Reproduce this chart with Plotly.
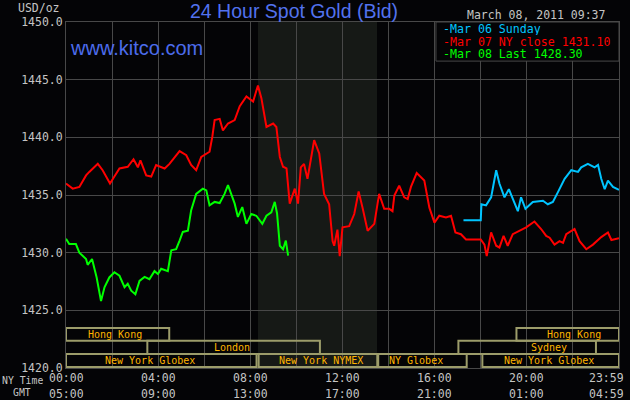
import plotly.graph_objects as go

# ---------------- data ----------------
red_name = "Mar 07 NY close 1431.10"
red_h = [0, 0.29, 0.58, 0.87, 1.01, 1.38, 1.59, 1.91, 2.10, 2.32, 2.68, 2.93, 3.12, 3.23, 3.48, 3.70, 3.91,
         4.28, 4.49, 4.93, 5.22, 5.43, 5.65, 5.87, 6.23, 6.35, 6.45, 6.67, 6.81, 7.03, 7.32, 7.54, 7.83, 8.12,
         8.33, 8.48, 8.70, 8.99, 9.13, 9.28, 9.42, 9.57, 9.71, 9.93, 10.07, 10.19, 10.33, 10.48, 10.77, 10.99,
         11.20, 11.42, 11.57, 11.64, 11.78, 11.88, 12.0, 12.29, 12.51, 12.70, 12.87, 13.09, 13.38, 13.59, 13.81,
         14.03, 14.17, 14.25, 14.46, 14.68, 14.83, 14.97, 15.22, 15.55, 15.77, 15.99, 16.20, 16.49, 16.71, 16.90,
         17.14, 17.36, 18.0, 18.16, 18.26, 18.45, 18.67, 18.81, 18.99, 19.17, 19.39, 19.68, 19.97, 20.33, 20.62,
         20.84, 20.99, 21.20, 21.42, 21.57, 21.71, 22.07, 22.29, 22.58, 22.87, 23.23, 23.52, 23.67, 24.0]
red_v = [1436.0, 1435.55, 1435.7, 1436.7, 1437.0, 1437.7, 1437.15, 1436.0, 1436.6, 1437.3, 1437.45, 1438.1,
         1437.4, 1438.0, 1436.7, 1436.6, 1437.6, 1437.3, 1437.7, 1438.8, 1438.45, 1437.6, 1437.15, 1438.3,
         1438.75, 1440.05, 1441.5, 1441.6, 1440.6, 1441.2, 1441.5, 1442.7, 1443.55, 1443.1, 1444.5, 1443.4,
         1440.9, 1441.2, 1440.9, 1438.3, 1437.45, 1437.3, 1434.25, 1435.55, 1434.25, 1437.4, 1437.7, 1436.4,
         1439.75, 1438.6, 1435.1, 1434.2, 1431.0, 1430.6, 1432.0, 1429.7, 1432.2, 1432.3, 1433.35, 1435.3,
         1433.9, 1431.9, 1432.5, 1435.1, 1433.8, 1433.8, 1433.6, 1434.95, 1435.8, 1434.8, 1434.65, 1435.7,
         1436.9, 1436.25, 1433.9, 1432.6, 1433.2, 1433.05, 1433.2, 1431.75, 1431.6, 1431.15, 1431.15, 1430.7,
         1429.7, 1431.75, 1430.6, 1430.45, 1431.45, 1430.6, 1431.6, 1431.9, 1432.2, 1432.7, 1432.05, 1431.45,
         1431.3, 1430.7, 1431.0, 1430.85, 1431.6, 1432.05, 1431.0, 1430.3, 1430.7, 1431.35, 1431.75, 1431.1,
         1431.25]

cyan_name = "Mar 06 Sunday"
cyan_h = [17.25, 18.0, 18.03, 18.23, 18.45, 18.67, 18.81, 19.03, 19.22, 19.39, 19.61, 19.75, 19.94, 20.26,
          20.70, 20.91, 21.13, 21.35, 21.64, 21.93, 22.22, 22.36, 22.65, 22.94, 23.09, 23.23, 23.38, 23.52,
          23.74, 24.0]
cyan_v = [1432.8, 1432.8, 1434.2, 1434.1, 1434.8, 1437.15, 1436.0, 1434.8, 1435.5, 1434.65, 1433.6, 1434.8,
          1433.8, 1434.4, 1434.5, 1434.2, 1434.4, 1435.25, 1436.4, 1437.15, 1437.0, 1437.4, 1437.7, 1437.4,
          1437.6, 1436.4, 1435.5, 1436.25, 1435.7, 1435.45]

green_name = "Mar 08 Last 1428.30"
green_h = [0, 0.14, 0.43, 0.58, 0.87, 0.94, 1.13, 1.33, 1.52, 1.67, 1.88, 2.10, 2.32, 2.54, 2.68, 2.83, 3.01,
           3.19, 3.41, 3.62, 3.84, 3.99, 4.13, 4.42, 4.57, 4.78, 4.93, 5.07, 5.29, 5.43, 5.65, 5.94, 6.09,
           6.23, 6.45, 6.67, 6.88, 7.03, 7.32, 7.46, 7.65, 7.83, 8.04, 8.26, 8.52, 8.70, 8.91, 9.06, 9.16,
           9.28, 9.42, 9.54, 9.64]
green_v = [1431.2, 1430.75, 1430.75, 1430.0, 1429.45, 1428.95, 1429.45, 1427.85, 1425.8, 1427.0, 1427.85,
           1428.3, 1428.0, 1427.0, 1427.3, 1426.7, 1426.4, 1427.55, 1427.9, 1427.7, 1428.4, 1428.15, 1428.6,
           1428.4, 1430.2, 1430.3, 1431.05, 1431.8, 1431.9, 1433.65, 1435.1, 1435.55, 1435.4, 1434.1, 1434.4,
           1434.3, 1435.1, 1435.85, 1434.25, 1433.1, 1433.95, 1432.5, 1433.35, 1433.2, 1432.5, 1433.2, 1433.5,
           1434.4, 1433.4, 1430.6, 1430.3, 1431.05, 1429.75]

y_ticks = [1420, 1425, 1430, 1435, 1440, 1445, 1450]
y_tick_labels = ["1420.0", "1425.0", "1430.0", "1435.0", "1440.0", "1445.0", "1450.0"]
x_tick_hours = [0, 4, 8, 12, 16, 20, 24]
ny_labels = ["00:00", "04:00", "08:00", "12:00", "16:00", "20:00", "23:59"]
gmt_labels = ["05:00", "09:00", "13:00", "17:00", "21:00", "01:00", "04:59"]

# trading sessions (row 0 = top)
sess_names = ["Hong Kong", "Hong Kong", "London", "Sydney", "New York Globex", "New York NYMEX",
              "NY Globex", "New York Globex"]
sess_start = [0, 19.55, 3.53, 17.03, 0, 8.36, 13.55, 18.07]
sess_end = [4.48, 24, 11.02, 23.0, 8.27, 13.51, 17.39, 24]
sess_row = [0, 0, 1, 1, 2, 2, 2, 2]
sess_label_h = [2.13, 22.05, 7.2, 20.96, 3.65, 11.07, 15.19, 20.96]
row_top = [1423.47, 1422.37, 1421.21]
row_bot = [1422.37, 1421.21, 1420.09]

nymex_open = [8.33, 13.5]

# ---------------- style ----------------
BG = "#040406"
GRID = "#484848"
TXT = "#c4c4c4"
MONO = "DejaVu Sans Mono"
C_RED = "#ff0000"
C_GREEN = "#00ff00"
C_CYAN = "#00c4ff"
SESS_LINE = "#9c9c6a"
SESS_TXT = "#ffb400"

fig = go.Figure()
fig.add_trace(go.Scatter(x=red_h, y=red_v, mode="lines", name=red_name,
                         line=dict(color=C_RED, width=2)))
fig.add_trace(go.Scatter(x=green_h, y=green_v, mode="lines", name=green_name,
                         line=dict(color=C_GREEN, width=2)))
fig.add_trace(go.Scatter(x=cyan_h, y=cyan_v, mode="lines", name=cyan_name,
                         line=dict(color=C_CYAN, width=2)))

shapes = []
shapes.append(dict(type="rect", xref="x", yref="paper", x0=nymex_open[0], x1=nymex_open[1], y0=0, y1=1,
                   fillcolor="#161916", line=dict(width=0), layer="below"))
for s, e, r in zip(sess_start, sess_end, sess_row):
    shapes.append(dict(type="rect", xref="x", yref="y", x0=s, x1=e, y0=row_bot[r], y1=row_top[r],
                       line=dict(color=SESS_LINE, width=2), fillcolor="rgba(0,0,0,0)", layer="above"))
shapes.append(dict(type="rect", xref="paper", yref="paper", x0=0.669, x1=1.0, y0=0.887, y1=1.0,
                   fillcolor=BG, line=dict(color=GRID, width=1), layer="above"))

ann = []
for name, h, r in zip(sess_names, sess_label_h, sess_row):
    ann.append(dict(x=h, y=(row_top[r] + row_bot[r]) / 2, xref="x", yref="y", text=name, showarrow=False,
                    font=dict(family=MONO, size=10, color=SESS_TXT), xanchor="center", yanchor="middle"))
for h, a, b in zip(x_tick_hours, ny_labels, gmt_labels):
    xa = "center"
    xs = 0
    if h == 24:
        xa = "right"
        xs = 6
    ann.append(dict(x=h, y=-0.0289, xref="x", yref="paper", text=a, showarrow=False, xanchor=xa, xshift=xs,
                    yanchor="middle", font=dict(family=MONO, size=11.5, color=TXT), height=13, borderpad=0))
    ann.append(dict(x=h, y=-0.0723, xref="x", yref="paper", text=b, showarrow=False, xanchor=xa, xshift=xs,
                    yanchor="middle", font=dict(family=MONO, size=11.5, color=TXT), height=13, borderpad=0))
ann.append(dict(x=-0.117, y=-0.034, xref="paper", yref="paper", text="NY Time", showarrow=False,
                xanchor="left", yanchor="middle", font=dict(family=MONO, size=9.8, color=TXT),
                height=12, borderpad=0))
ann.append(dict(x=-0.098, y=-0.068, xref="paper", yref="paper", text="GMT", showarrow=False,
                xanchor="left", yanchor="middle", font=dict(family=MONO, size=9.8, color=TXT),
                height=12, borderpad=0))
ann.append(dict(x=-0.0065, y=1.0405, xref="paper", yref="paper", text="USD/oz", showarrow=False,
                xanchor="right", yanchor="middle", font=dict(family=MONO, size=11.5, color=TXT)))
ann.append(dict(x=0.412, y=1.0318, xref="paper", yref="paper", text="24 Hour Spot Gold (Bid)",
                showarrow=False, xanchor="center", yanchor="middle",
                font=dict(family="Liberation Sans", size=19.5, color="#5272ee")))
ann.append(dict(x=0.003, y=0.925, xref="paper", yref="paper", text="www.kitco.com", showarrow=False,
                xanchor="left", yanchor="middle",
                font=dict(family="Liberation Sans", size=20, color="#4c6cec")))
ann.append(dict(x=0.98, y=1.0202, xref="paper", yref="paper", text="March 08, 2011 09:37", showarrow=False,
                xanchor="right", yanchor="middle", font=dict(family=MONO, size=11.5, color=TXT)))
for name, col, yy in [(cyan_name, C_CYAN, 0.979), (red_name, C_RED, 0.943), (green_name, C_GREEN, 0.908)]:
    ann.append(dict(x=0.680, y=yy, xref="paper", yref="paper", text="-" + name, showarrow=False,
                    xanchor="left", yanchor="middle", font=dict(family=MONO, size=11.6, color=col),
                    height=12, borderpad=0))

fig.update_layout(
    width=630, height=400, autosize=False,
    margin=dict(l=66, r=11, t=22, b=32),
    paper_bgcolor=BG, plot_bgcolor=BG,
    showlegend=False, hovermode=False,
    shapes=shapes, annotations=ann,
    xaxis=dict(range=[0, 24], dtick=2, tick0=0, showgrid=True, gridcolor=GRID, gridwidth=1,
               showticklabels=False, zeroline=False, showline=True, linecolor=GRID, mirror=True, ticks=""),
    yaxis=dict(range=[1420, 1450], tickvals=y_ticks, ticktext=y_tick_labels, showgrid=True, gridcolor=GRID,
               gridwidth=1, zeroline=False, showline=True, linecolor=GRID, mirror=True, ticks="",
               tickfont=dict(family=MONO, size=11.5, color=TXT)),
)
fig.write_html("out.html", config={"displayModeBar": False},
               post_script="document.body.style.margin='0px';document.body.style.background='" + BG + "';")
